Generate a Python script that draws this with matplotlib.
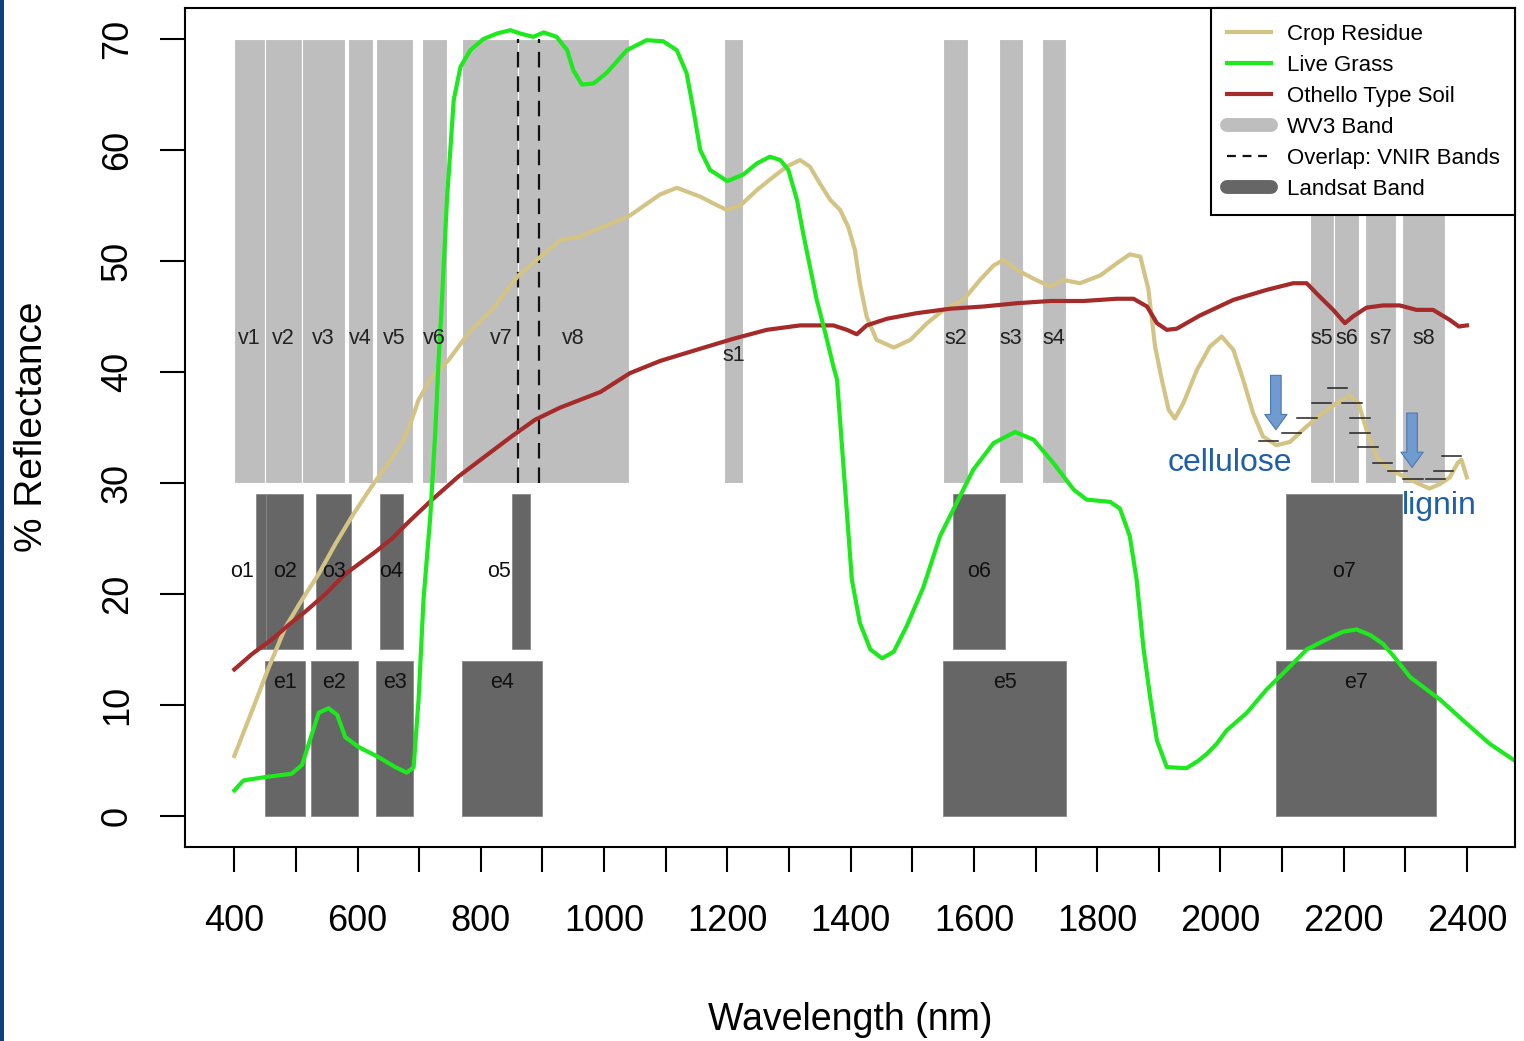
import matplotlib
matplotlib.use("Agg")
import matplotlib.pyplot as plt
from matplotlib.lines import Line2D
from matplotlib.patches import Rectangle
from matplotlib.ticker import MultipleLocator, FuncFormatter

plt.rcParams["font.family"] = ["Liberation Sans", "DejaVu Sans"]

# spectra (wavelength nm, % reflectance)
crop_wl = [400, 429, 456, 483, 510, 537, 564, 591, 623, 650, 672, 688, 699, 721, 748,
           780, 818, 861, 929, 961, 994, 1042, 1091, 1118, 1156, 1177, 1199, 1221, 1248,
           1275, 1296, 1318, 1334, 1350, 1367, 1383, 1396, 1407, 1415, 1426, 1442, 1470,
           1497, 1524, 1551, 1583, 1610, 1632, 1648, 1670, 1697, 1724, 1745, 1772, 1805,
           1832, 1853, 1870, 1883, 1894, 1905, 1916, 1926, 1940, 1962, 1983, 2002, 2021,
           2037, 2053, 2069, 2091, 2113, 2134, 2161, 2189, 2210, 2224, 2237, 2253, 2275,
           2301, 2323, 2339, 2356, 2372, 2385, 2391, 2400]
crop_ref = [5.4, 9.5, 13.4, 17.0, 19.5, 21.8, 24.5, 27.0, 29.7, 31.8, 33.6, 35.7, 37.5,
            39.6, 41.1, 43.5, 45.6, 48.7, 51.9, 52.2, 53.0, 54.1, 56.0, 56.6, 55.8, 55.2,
            54.6, 55.0, 56.4, 57.6, 58.5, 59.1, 58.5, 57.0, 55.5, 54.6, 53.1, 51.0, 48.0,
            45.0, 42.9, 42.2, 42.9, 44.4, 45.6, 46.5, 48.3, 49.6, 50.1, 49.2, 48.4, 47.7,
            48.3, 48.0, 48.7, 49.8, 50.6, 50.4, 47.5, 42.3, 39.3, 36.6, 35.8, 37.2, 40.2,
            42.3, 43.2, 42.0, 39.3, 36.3, 34.2, 33.4, 33.7, 34.8, 36.1, 37.2, 37.9, 37.2,
            34.8, 32.4, 31.2, 30.5, 29.9, 29.5, 29.9, 30.5, 31.8, 32.1, 30.5]

grass_wl = [400, 415, 450, 493, 510, 526, 537, 553, 567, 580, 602, 634, 661, 680, 691,
            699, 707, 718, 726, 731, 737, 745, 756, 767, 783, 804, 826, 848, 864, 885,
            902, 923, 940, 950, 964, 983, 1005, 1037, 1069, 1096, 1118, 1134, 1145, 1156,
            1172, 1200, 1226, 1248, 1269, 1286, 1299, 1313, 1323, 1334, 1345, 1359, 1372,
            1378, 1386, 1394, 1402, 1415, 1432, 1451, 1470, 1491, 1518, 1545, 1572, 1599,
            1632, 1667, 1697, 1729, 1762, 1783, 1821, 1837, 1853, 1864, 1875, 1886, 1897,
            1913, 1945, 1965, 1978, 1994, 2010, 2043, 2075, 2108, 2140, 2172, 2199, 2221,
            2243, 2264, 2281, 2308, 2356, 2400, 2437, 2477, 2500]
grass_ref = [2.3, 3.2, 3.5, 3.8, 4.6, 7.4, 9.3, 9.7, 9.1, 7.1, 6.2, 5.3, 4.4, 3.9, 4.4,
             10.5, 19.5, 27.0, 34.5, 40.5, 46.5, 55.5, 64.5, 67.5, 69.0, 70.0, 70.5, 70.8,
             70.5, 70.2, 70.6, 70.2, 69.0, 67.2, 65.9, 66.0, 67.0, 69.0, 69.9, 69.8, 69.0,
             66.9, 63.6, 60.0, 58.2, 57.2, 57.8, 58.8, 59.4, 59.1, 58.2, 55.5, 52.5, 49.5,
             46.5, 43.5, 40.5, 39.3, 33.3, 27.3, 21.3, 17.4, 15.0, 14.2, 14.8, 17.1, 20.6,
             25.2, 28.2, 31.2, 33.6, 34.6, 33.9, 31.8, 29.4, 28.5, 28.3, 27.7, 25.2, 21.3,
             15.2, 10.7, 6.8, 4.4, 4.3, 5.0, 5.6, 6.5, 7.7, 9.3, 11.4, 13.2, 15.0, 15.9,
             16.6, 16.8, 16.3, 15.5, 14.4, 12.5, 10.5, 8.3, 6.5, 5.0, 4.2]

soil_wl = [400, 429, 461, 488, 515, 548, 580, 629, 656, 683, 721, 764, 807, 850, 888,
           929, 994, 1042, 1091, 1156, 1210, 1264, 1318, 1372, 1394, 1410, 1426, 1459,
           1507, 1561, 1615, 1670, 1724, 1778, 1832, 1859, 1881, 1897, 1913, 1929, 1967,
           2021, 2075, 2118, 2140, 2161, 2183, 2202, 2215, 2237, 2264, 2291, 2318, 2345,
           2372, 2387, 2400]
soil_ref = [13.2, 14.6, 15.9, 17.2, 18.4, 20.0, 21.8, 23.8, 25.0, 26.5, 28.5, 30.6, 32.4,
            34.2, 35.7, 36.8, 38.2, 39.9, 41.0, 42.1, 43.0, 43.8, 44.2, 44.2, 43.8, 43.4,
            44.2, 44.8, 45.3, 45.7, 45.9, 46.2, 46.4, 46.4, 46.6, 46.6, 45.9, 44.4, 43.8,
            43.9, 45.1, 46.5, 47.4, 48.0, 48.0, 46.8, 45.6, 44.4, 45.0, 45.8, 46.0, 46.0,
            45.6, 45.6, 44.7, 44.1, 44.2]

# sensor bands (start, end nm)
wv3_names = ["v1", "v2", "v3", "v4", "v5", "v6", "v7", "v8",
             "s1", "s2", "s3", "s4", "s5", "s6", "s7", "s8"]
wv3_lo = [400, 450, 510, 585, 630, 705, 770, 860, 1195, 1550, 1640, 1710, 2145, 2185, 2235, 2295]
wv3_hi = [450, 510, 580, 625, 690, 745, 895, 1040, 1225, 1590, 1680, 1750, 2185, 2225, 2285, 2365]
wv3_label_y = [43, 43, 43, 43, 43, 43, 43, 43, 41.5, 43, 43, 43, 43, 43, 43, 43]

oli_names = ["o1", "o2", "o3", "o4", "o5", "o6", "o7"]
oli_lo = [435, 452, 533, 636, 851, 1566, 2107]
oli_hi = [451, 512, 590, 673, 879, 1651, 2294]

tm_names = ["e1", "e2", "e3", "e4", "e5", "e7"]
tm_lo = [450, 525, 630, 770, 1550, 2090]
tm_hi = [515, 600, 690, 900, 1750, 2350]

vnir_overlap = [860, 895]

# absorption annotations
marks_x = [2063, 2100, 2125, 2149, 2174, 2198, 2211, 2211, 2224, 2248, 2272, 2297, 2333, 2346, 2359]
marks_y = [33.8, 34.5, 35.9, 37.2, 38.6, 37.2, 35.9, 34.5, 33.2, 31.8, 31.1, 30.4, 30.4, 31.1, 32.4]

WV3_C = "#bebebe"
LS_C = "#666666"
CROP_C = "#d3c485"
GRASS_C = "#1ee81e"
SOIL_C = "#a52a2a"
BLUE_T = "#1f5faa"

fig = plt.figure(figsize=(15.24, 10.41), dpi=100)
ax = fig.add_axes([185 / 1524, 194 / 1041, 1330 / 1524, 839 / 1041])

for lo, hi in zip(wv3_lo, wv3_hi):
    ax.add_patch(Rectangle((lo, 30), hi - lo, 40, facecolor=WV3_C, edgecolor="white", lw=0.8))
for lo, hi in zip(oli_lo, oli_hi):
    ax.add_patch(Rectangle((lo, 15), hi - lo, 14, facecolor=LS_C, edgecolor="#888888", lw=0.6))
for lo, hi in zip(tm_lo, tm_hi):
    ax.add_patch(Rectangle((lo, 0), hi - lo, 14, facecolor=LS_C, edgecolor="#888888", lw=0.6))

for x in vnir_overlap:
    ax.plot([x, x], [30, 70], color="#111111", lw=1.6, ls=(0, (7, 4)))

for name, lo, hi, y in zip(wv3_names, wv3_lo, wv3_hi, wv3_label_y):
    ax.text((lo + hi) / 2, y, name, ha="center", va="center", fontsize=15.5, color="#222222")
for name, lo, hi in zip(oli_names, oli_lo, oli_hi):
    # narrow bands get their label just to the left
    xl = lo - 22 if hi - lo < 30 else (lo + hi) / 2
    ax.text(xl, 22, name, ha="center", va="center", fontsize=15.5, color="#111111")
for name, lo, hi in zip(tm_names, tm_lo, tm_hi):
    ax.text((lo + hi) / 2, 12, name, ha="center", va="center", fontsize=15.5, color="#111111")

ax.plot(crop_wl, crop_ref, color=CROP_C, lw=3)
ax.plot(soil_wl, soil_ref, color=SOIL_C, lw=3)
ax.plot(grass_wl, grass_ref, color=GRASS_C, lw=3)

for x, y in zip(marks_x, marks_y):
    ax.plot([x, x + 31], [y, y], color="#222222", lw=1.1)

arrow_kw = dict(arrowstyle="simple,head_length=0.55,head_width=0.8,tail_width=0.38",
                fc="#6f9bd1", ec="#4a78b0", lw=0.8, shrinkA=0, shrinkB=0, mutation_scale=20)
ax.annotate("", xy=(2090, 34.8), xytext=(2090, 39.7), arrowprops=arrow_kw)
ax.annotate("", xy=(2311, 31.4), xytext=(2311, 36.3), arrowprops=arrow_kw)
ax.text(2016, 31.8, "cellulose", color=BLUE_T, fontsize=23, ha="center", va="center")
ax.text(2355, 27.9, "lignin", color=BLUE_T, fontsize=23, ha="center", va="center")

ax.set_xlim(320, 2478)
ax.set_ylim(-2.8, 72.8)
ax.xaxis.set_major_locator(MultipleLocator(100))
ax.xaxis.set_major_formatter(FuncFormatter(lambda v, p: "%d" % v if int(round(v)) % 200 == 0 else ""))
ax.set_xticks(range(400, 2401, 100))
ax.set_yticks(range(0, 71, 10))
ax.tick_params(axis="both", direction="out", length=18, width=1.5, labelsize=26)
ax.tick_params(axis="x", pad=23)
ax.tick_params(axis="y", pad=18)
for lab in ax.get_yticklabels():
    lab.set_rotation(90)
    lab.set_va("center")
for sp in ax.spines.values():
    sp.set_linewidth(1.5)

handles = [
    Line2D([], [], color=CROP_C, lw=3),
    Line2D([], [], color=GRASS_C, lw=3),
    Line2D([], [], color=SOIL_C, lw=3),
    Line2D([], [], color=WV3_C, lw=10, solid_capstyle="round"),
    Line2D([], [], color="#111111", lw=1.6, ls=(0, (4, 3))),
    Line2D([], [], color=LS_C, lw=10, solid_capstyle="round"),
]
labels = ["Crop Residue", "Live Grass", "Othello Type Soil", "WV3 Band",
          "Overlap: VNIR Bands", "Landsat Band"]
leg = ax.legend(handles, labels, loc="upper right", bbox_to_anchor=(1, 1), borderaxespad=0,
                fontsize=16, fancybox=False, edgecolor="black", framealpha=1,
                handlelength=2.0, handletextpad=0.7, labelspacing=0.45, borderpad=0.7)
leg.get_frame().set_linewidth(1.5)

fig.text(850 / 1524, 1 - 1020 / 1041, "Wavelength (nm)", ha="center", va="center", fontsize=27)
fig.text(32 / 1524, 1 - 427 / 1041, "% Reflectance", ha="center", va="center", fontsize=28,
         rotation=90)
fig.patches.append(Rectangle((0, 0), 4 / 1524, 1, transform=fig.transFigure,
                             facecolor="#0f3f7f", edgecolor="none"))

fig.savefig("out.png", dpi=100)
